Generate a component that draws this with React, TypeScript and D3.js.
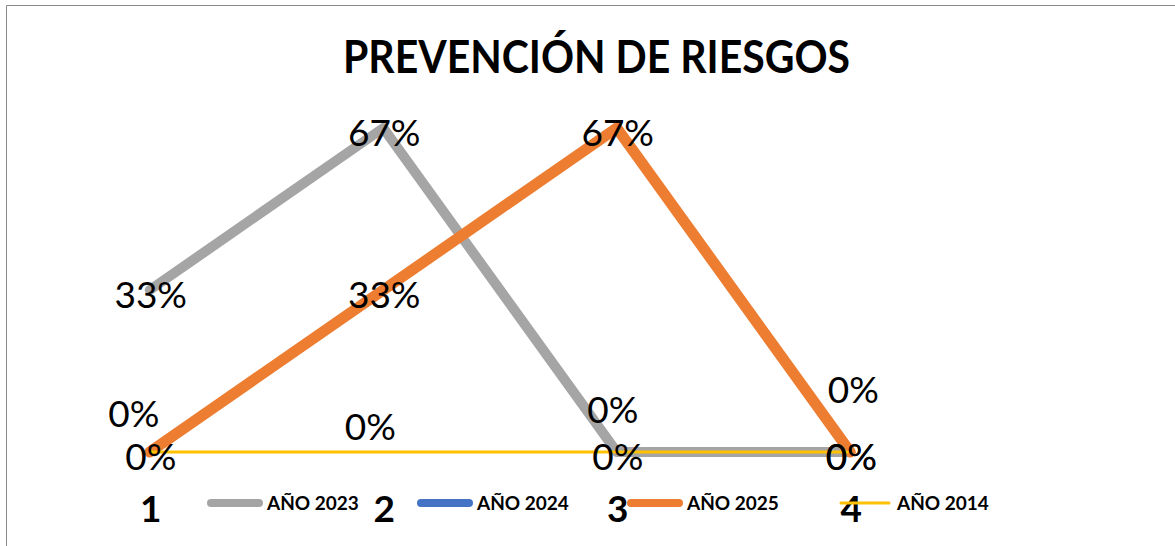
import React from 'react';
import * as d3 from 'd3';

const title = 'PREVENCIÓN DE RIESGOS';
const categories = ['1', '2', '3', '4'];
const seriesNames = ['AÑO 2023', 'AÑO 2024', 'AÑO 2025', 'AÑO 2014'];
const values2023: (number | null)[] = [0.3333, 0.6667, 0, 0];
const values2024: (number | null)[] = [null, null, null, null];
const values2025: (number | null)[] = [0, 0.3333, 0.6667, 0];
const values2014: (number | null)[] = [0, 0, 0, 0];

const seriesColors = ['#A5A5A5', '#4472C4', '#ED7D31', '#FFC000'];
const seriesWidths = [10, 9, 11, 3];
// label offsets for the manually moved 2014 labels (dx, dy)
const label2014Dx = [-16, -13, -4, 3];
const label2014Dy = [-43, -30, -47, -67];

const W = 1175;
const H = 546;

export default function App() {
  const x = d3.scalePoint<string>().domain(categories).range([33, 967]).padding(0.5);
  const y = d3.scaleLinear().domain([0, 0.7]).range([452, 452 - 0.7 * 486]);
  const fmt = d3.format('.0%');

  const allSeries = [values2023, values2024, values2025, values2014];

  const line = d3
    .line<number | null>()
    .defined((d) => d !== null)
    .x((_, i) => x(categories[i]) as number)
    .y((d) => y(d as number));

  const labelFont = 'Lato, "Open Sans", sans-serif';

  return (
    <svg
      width={W}
      height={H}
      style={{ position: 'absolute', left: 0, top: 0, background: '#fff' }}
      fontFamily={labelFont}
    >
      <rect x={0} y={0} width={W} height={H} fill="#fff" />
      <path d={`M6.5,${H} V5.5 H${W}`} fill="none" stroke="#8a8a8a" strokeWidth={1} />

      <text
        x={596.5}
        y={73}
        textAnchor="middle"
        fontSize={46}
        fontWeight={700}
        textLength={507}
        lengthAdjust="spacingAndGlyphs"
        fill="#000"
      >
        {title}
      </text>

      {allSeries.map((vals, si) => (
        <path
          key={'l' + si}
          d={line(vals) || ''}
          fill="none"
          stroke={seriesColors[si]}
          strokeWidth={seriesWidths[si]}
          strokeLinejoin="round"
          strokeLinecap="round"
        />
      ))}

      {allSeries.map((vals, si) =>
        vals.map((v, i) => {
          if (v === null) return null;
          const isMoved = si === 3;
          const px = (x(categories[i]) as number) + (isMoved ? label2014Dx[i] : 1);
          const py = y(v) + 18 + (isMoved ? label2014Dy[i] : 0);
          return (
            <text
              key={`t${si}-${i}`}
              x={px}
              y={py}
              textAnchor="middle"
              fontSize={37}
              fill="#000"
            >
              {fmt(v)}
            </text>
          );
        })
      )}

      {categories.map((c) => (
        <text
          key={'c' + c}
          x={(x(c) as number) + 1}
          y={522}
          textAnchor="middle"
          fontSize={37}
          fontWeight={700}
          fill="#000"
        >
          {c}
        </text>
      ))}

      {seriesNames.map((name, i) => {
        const x0 = 207 + i * 210;
        return (
          <g key={'lg' + i}>
            <line
              x1={x0 + 4}
              x2={x0 + 52}
              y1={503}
              y2={503}
              stroke={seriesColors[i]}
              strokeWidth={i === 3 ? 3 : 8}
              strokeLinecap="round"
            />
            <text x={x0 + 60} y={510} fontSize={19} fontWeight={700} fill="#000">
              {name}
            </text>
          </g>
        );
      })}
    </svg>
  );
}
